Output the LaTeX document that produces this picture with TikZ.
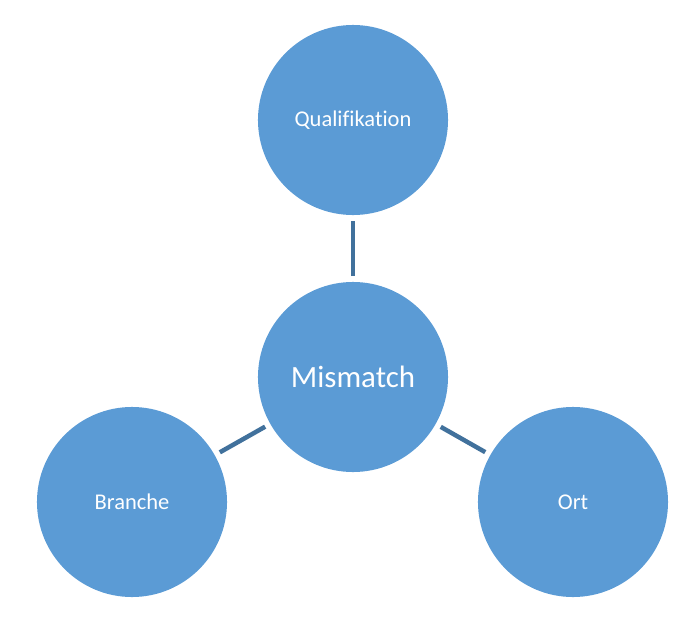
\documentclass[tikz,border=0pt]{standalone}
\usepackage{fontspec}
\setmainfont[Ligatures={NoCommon}]{Carlito}
\definecolor{kreisblau}{HTML}{5B9BD5}
\definecolor{linienblau}{HTML}{41719C}
\tikzset{kreis/.style={circle,fill=kreisblau,minimum size=4.75cm,inner sep=0pt,text=white,font=\fontsize{16}{19}\selectfont},
	verbindung/.style={linienblau,line width=3.2pt,shorten <=4pt,shorten >=4pt}}

\begin{document}
\begin{tikzpicture}[x=0.025cm,y=-0.025cm]
	\useasboundingbox (0,0) rectangle (700,625);
	\node[kreis] (qual) at (353,120) {Qualifikation};
	\node[kreis,font=\fontsize{22}{26}\selectfont] (mis) at (353,377) {Mismatch};
	\node[kreis] (bra) at (132,502) {Branche};
	\node[kreis] (ort) at (573,502) {Ort};
	\foreach \n in {qual,bra,ort} \draw[verbindung] (mis) -- (\n);
\end{tikzpicture}
\end{document}
